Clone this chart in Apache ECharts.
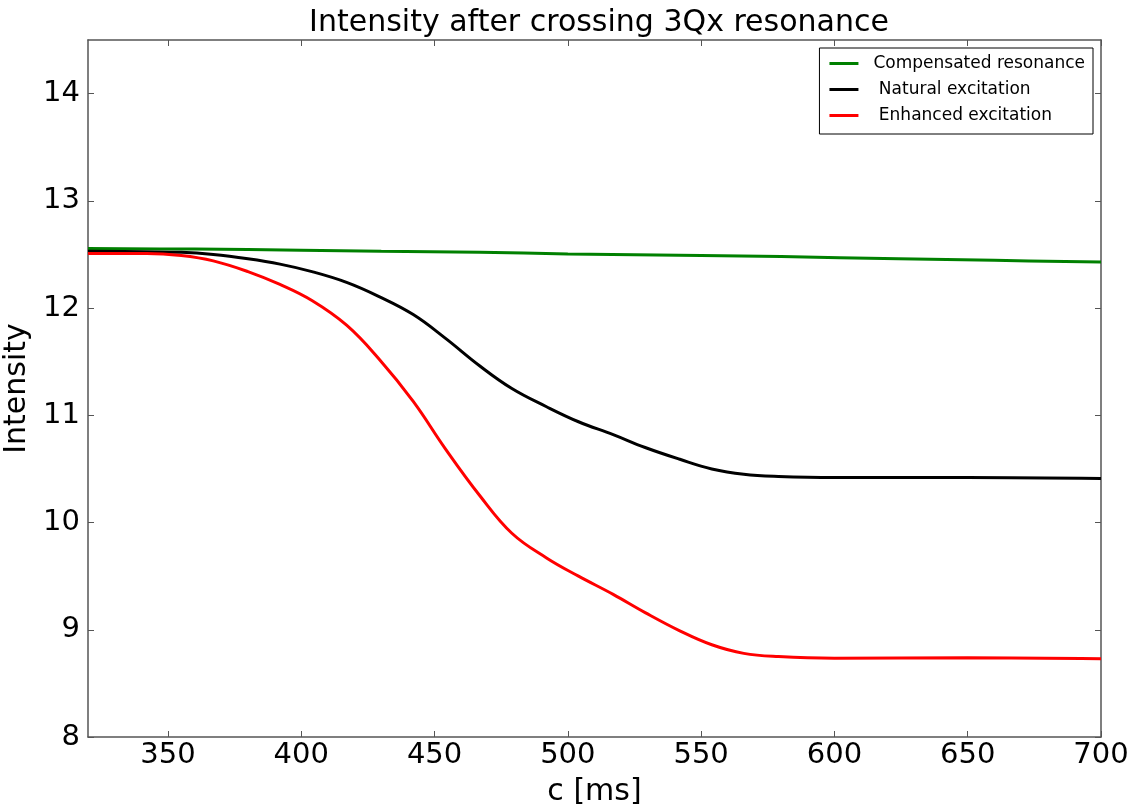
<!DOCTYPE html>
<html>
<head>
<meta charset="utf-8">
<script src="https://cdn.jsdelivr.net/npm/echarts@6/dist/echarts.min.js"></script>
<style>html,body{margin:0;padding:0;background:#fff;overflow:hidden}#c{width:1136px;height:810px}</style>
</head>
<body>
<div id="c"></div>
<script>
const xTicks = [350, 400, 450, 500, 550, 600, 650, 700];
const yTicks = [8, 9, 10, 11, 12, 13, 14];

const xGreen = [320, 360, 400, 430, 467, 500, 550, 580, 624, 660, 700];
const yGreen = [12.555, 12.55, 12.54, 12.53, 12.52, 12.505, 12.49, 12.48, 12.46, 12.445, 12.43];

const xBlack = [320, 340, 355, 367, 380, 392, 404, 417, 429, 442, 454, 467, 479, 492, 504, 517, 529, 542, 554, 566, 579, 600, 650, 700];
const yBlack = [12.53, 12.525, 12.52, 12.5, 12.46, 12.41, 12.34, 12.24, 12.11, 11.94, 11.72, 11.46, 11.25, 11.08, 10.94, 10.82, 10.7, 10.59, 10.5, 10.45, 10.43, 10.42, 10.42, 10.41];

const xRed = [320, 342, 355, 367, 380, 392, 404, 417, 429, 442, 454, 467, 479, 492, 504, 517, 529, 542, 554, 566, 579, 600, 650, 700];
const yRed = [12.51, 12.51, 12.49, 12.44, 12.34, 12.22, 12.07, 11.84, 11.53, 11.13, 10.69, 10.25, 9.9, 9.67, 9.5, 9.33, 9.16, 8.99, 8.86, 8.78, 8.75, 8.735, 8.74, 8.73];

const seriesNames = ['Compensated resonance', ' Natural excitation', ' Enhanced excitation'];
const seriesColors = ['#008000', '#000000', '#ff0000'];

const zip = (xs, ys) => xs.map((x, i) => [x, ys[i]]);
const FONT = 'DejaVu Sans';
const axisLineStyle = { color: '#555', width: 1.5 };
const tickStyle = { color: '#555', width: 1 };

const chart = echarts.init(document.getElementById('c'), null, { renderer: 'canvas' });
chart.setOption({
  animation: false,
  backgroundColor: '#fff',
  textStyle: { fontFamily: FONT },
  title: {
    text: 'Intensity after crossing 3Qx resonance',
    left: 594, textAlign: 'center', top: 3,
    textStyle: { fontFamily: FONT, fontSize: 30, fontWeight: 'normal', color: '#000' }
  },
  legend: {
    orient: 'vertical',
    right: 43, top: 48,
    backgroundColor: '#fff',
    borderColor: '#000', borderWidth: 1, borderRadius: 0,
    padding: [7, 8, 10, 10],
    itemGap: 9,
    itemWidth: 29, itemHeight: 3,
    icon: 'rect',
    textStyle: { fontFamily: FONT, fontSize: 17, color: '#000', lineHeight: 16, padding: [0, 0, 0, 10] },
    data: seriesNames
  },
  grid: { left: 88, right: 35, top: 40, bottom: 73, containLabel: false, outerBoundsMode: 'none' },
  xAxis: [{
    type: 'value', min: 320, max: 700,
    name: 'c [ms]', nameLocation: 'middle', nameGap: 40,
    nameTextStyle: { fontFamily: FONT, fontSize: 30, color: '#000' },
    axisLine: { show: true, lineStyle: axisLineStyle },
    axisTick: { show: true, inside: true, length: 6, customValues: xTicks, lineStyle: tickStyle },
    axisLabel: { customValues: xTicks, fontFamily: FONT, fontSize: 29, color: '#000', margin: 4 },
    splitLine: { show: false }
  }, {
    type: 'value', min: 320, max: 700, position: 'top',
    axisLine: { show: true, lineStyle: axisLineStyle },
    axisTick: { show: true, inside: true, length: 6, customValues: xTicks, lineStyle: tickStyle },
    axisLabel: { show: false },
    splitLine: { show: false }
  }],
  yAxis: [{
    type: 'value', min: 8, max: 14.5,
    name: 'Intensity', nameLocation: 'middle', nameGap: 50,
    nameTextStyle: { fontFamily: FONT, fontSize: 30, color: '#000' },
    axisLine: { show: true, lineStyle: axisLineStyle },
    axisTick: { show: true, inside: true, length: 6, customValues: yTicks, lineStyle: tickStyle },
    axisLabel: { customValues: yTicks, fontFamily: FONT, fontSize: 29, color: '#000', margin: 8 },
    splitLine: { show: false }
  }, {
    type: 'value', min: 8, max: 14.5, position: 'right',
    axisLine: { show: true, lineStyle: axisLineStyle },
    axisTick: { show: true, inside: true, length: 6, customValues: yTicks, lineStyle: tickStyle },
    axisLabel: { show: false },
    splitLine: { show: false }
  }],
  series: [
    { name: seriesNames[0], type: 'line', data: zip(xGreen, yGreen), smooth: 0.4, showSymbol: false, lineStyle: { width: 3, color: seriesColors[0] }, itemStyle: { color: seriesColors[0] } },
    { name: seriesNames[1], type: 'line', data: zip(xBlack, yBlack), smooth: 0.4, showSymbol: false, lineStyle: { width: 3, color: seriesColors[1] }, itemStyle: { color: seriesColors[1] } },
    { name: seriesNames[2], type: 'line', data: zip(xRed, yRed), smooth: 0.4, showSymbol: false, lineStyle: { width: 3, color: seriesColors[2] }, itemStyle: { color: seriesColors[2] } }
  ]
});
</script>
</body>
</html>
